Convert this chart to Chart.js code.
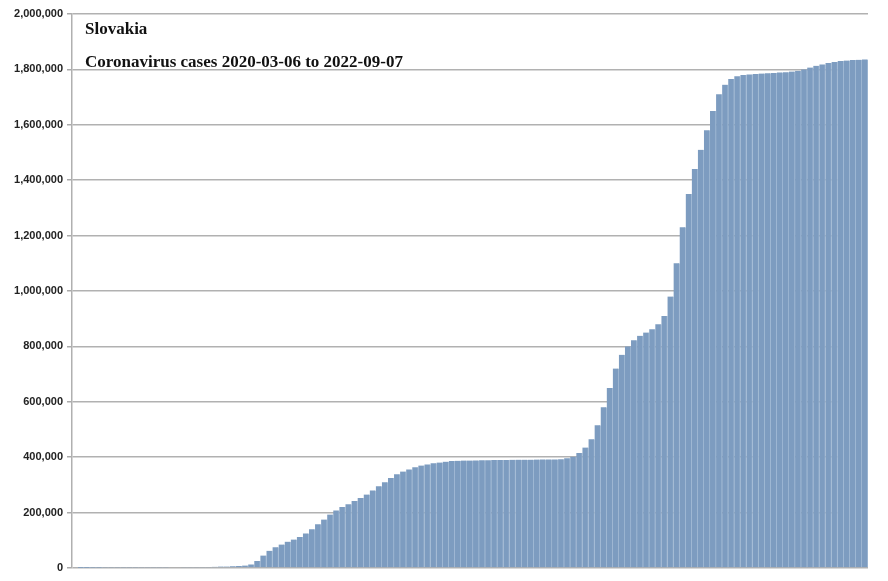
<!DOCTYPE html>
<html><head><meta charset="utf-8">
<script src="https://cdn.jsdelivr.net/npm/chart.js@4"></script>
<style>html,body{margin:0;padding:0;background:#fff}#w{width:888px;height:581px}</style>
</head><body><div id="w"><canvas id="c"></canvas></div>
<script>
const titleLine1 = "Slovakia";
const titleLine2 = "Coronavirus cases 2020-03-06 to 2022-09-07";
const startDate = "2020-03-06";
// weekly cumulative cases (thousands)
const casesK = [
0,0.1,0.4,1,1.2,1.4,1.5,1.5,1.5,1.6,
1.6,1.7,1.8,1.9,2,2.2,2.5,2.8,3.2,3.6,
3.5,3.8,4,4.5,5,5.5,6,7,9,13,
25,45,62,75,85,95,103,112,125,140,
158,175,193,208,220,230,242,253,265,280,
295,310,325,338,348,356,364,370,374,378,
381,384,386,387,388,388,388.5,389,389,389.5,
390,390,390.5,391,391,391,391.5,392,392,392,
393,396,402,415,435,465,515,580,650,720,
770,800,822,838,850,862,880,910,980,1100,
1230,1350,1440,1510,1580,1650,1710,1745,1765,1775,
1780,1782,1783,1785,1786,1787,1789,1790,1792,1795,
1800,1807,1813,1818,1823,1827,1830,1832,1834,1835,1836
];
const yTicks = [0,200000,400000,600000,800000,1000000,1200000,1400000,1600000,1800000,2000000];
const labels = casesK.map((_,i)=>{const d=new Date(startDate);d.setDate(d.getDate()+7*i);return d.toISOString().slice(0,10);});
const values = casesK.map(v=>v*1000);

const titlePlugin={id:'t',afterDraw(ch){const c=ch.ctx;c.save();c.fillStyle='#111';c.font='bold 17px "Liberation Serif"';c.textBaseline='middle';
c.fillText(titleLine1,85,30);c.fillText(titleLine2,85,63);c.restore();}};

new Chart(document.getElementById('c'),{
 type:'bar',
 data:{labels,datasets:[{data:values,backgroundColor:'#7d9cc0',borderColor:'#a8bfd8',borderWidth:{right:1},barPercentage:1,categoryPercentage:1}]},
 options:{responsive:true,maintainAspectRatio:false,animation:false,
  layout:{padding:{top:14,right:20,bottom:13,left:0}},
  plugins:{legend:{display:false},tooltip:{enabled:false}},
  scales:{
   x:{display:false},
   y:{min:0,max:2000000,z:1,afterFit:s=>{s.width=72;},
      afterBuildTicks:s=>{s.ticks=yTicks.map(v=>({value:v}));},
      ticks:{color:'#222',font:{family:'Liberation Sans',size:11,weight:'bold'},padding:4,
        callback:v=>v.toLocaleString('en-US')},
      grid:{color:'rgba(70,70,70,0.42)',lineWidth:1.5,tickLength:5,tickColor:'#aaa'},
      border:{display:true,color:'#b0b0b0',width:1.5}}
  }},
 plugins:[titlePlugin]
});
</script></body></html>
